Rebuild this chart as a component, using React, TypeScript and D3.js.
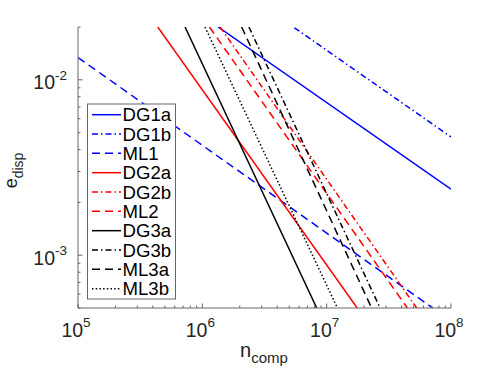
import React from "react";
import * as d3 from "d3";

// axis ticks
const xMajor = [1e5, 1e6, 1e7, 1e8];
const xMajorExp = ["5", "6", "7", "8"];
const yMajor = [1e-3, 1e-2];
const yMajorExp = ["-3", "-2"];

// legend order
const seriesNames = ["DG1a", "DG1b", "ML1", "DG2a", "DG2b", "ML2", "DG3a", "DG3b", "ML3a", "ML3b"];

// [n_comp, e_disp] (end points of each straight log-log line)
const dg1a: [number, number][] = [[1.34e6, 2.0e-2], [1e8, 2.38e-3]];
const dg1b: [number, number][] = [[5.5e6, 1.98e-2], [1e8, 4.72e-3]];
const ml1: [number, number][] = [[1e5, 1.34e-2], [7.13e7, 5.0e-4]];
const dg2a: [number, number][] = [[4.38e5, 2.0e-2], [1.76e7, 5.0e-4]];
const dg2b: [number, number][] = [[1.39e6, 2.0e-2], [5.3e7, 5.0e-4]];
const ml2: [number, number][] = [[1.14e6, 2.0e-2], [4.46e7, 5.0e-4]];
const dg3a: [number, number][] = [[7.26e5, 2.0e-2], [8.32e6, 5.0e-4]];
const dg3b: [number, number][] = [[2.37e6, 2.0e-2], [2.69e7, 5.0e-4]];
const ml3a: [number, number][] = [[2.07e6, 2.0e-2], [2.3e7, 5.0e-4]];
const ml3b: [number, number][] = [[1.05e6, 2.0e-2], [1.22e7, 5.0e-4]];

const seriesData: Record<string, [number, number][]> = {
  DG1a: dg1a, DG1b: dg1b, ML1: ml1,
  DG2a: dg2a, DG2b: dg2b, ML2: ml2,
  DG3a: dg3a, DG3b: dg3b, ML3a: ml3a, ML3b: ml3b,
};

const DASH = "8,5";
const DASHDOT = "6,3,1.5,3";
const DOT = "1.5,2.2";
const styles: Record<string, { color: string; dash: string | null }> = {
  DG1a: { color: "#0000ff", dash: null },
  DG1b: { color: "#0000ff", dash: DASHDOT },
  ML1: { color: "#0000ff", dash: DASH },
  DG2a: { color: "#ff0000", dash: null },
  DG2b: { color: "#ff0000", dash: DASHDOT },
  ML2: { color: "#ff0000", dash: DASH },
  DG3a: { color: "#000000", dash: null },
  DG3b: { color: "#000000", dash: DASHDOT },
  ML3a: { color: "#000000", dash: DASH },
  ML3b: { color: "#000000", dash: DOT },
};

const W = 498;
const H = 374;
const left = 78, right = 451, top = 27, bottom = 308;
const font = "Liberation Sans, Arial, Helvetica, sans-serif";
const axisColor = "#666666";
const textColor = "#262626";

export default function App() {
  const x = d3.scaleLog().domain([1e5, 1e8]).range([left, right]);
  const y = d3.scaleLog().domain([5e-4, 2e-2]).range([bottom, top]);
  const line = d3
    .line<[number, number]>()
    .x((d) => x(d[0]))
    .y((d) => y(d[1]));

  const isMajor = (v: number) => Math.abs(Math.log10(v) - Math.round(Math.log10(v))) < 1e-6;

  const legX = 87.5, legY = 104, legW = 88, legH = 195;
  const rowY0 = 114.7, rowStep = 19.33;

  return (
    <svg width={W} height={H} style={{ position: "absolute", left: 0, top: 0, background: "#fff" }}>
      <defs>
        <clipPath id="plot">
          <rect x={left} y={top} width={right - left} height={bottom - top} />
        </clipPath>
      </defs>

      {/* series */}
      <g clipPath="url(#plot)">
        {seriesNames.map((name) => (
          <path
            key={name}
            d={line(seriesData[name]) || ""}
            fill="none"
            stroke={styles[name].color}
            strokeWidth={1.5}
            strokeDasharray={styles[name].dash || undefined}
          />
        ))}
      </g>

      {/* axes */}
      <line x1={left} x2={left} y1={top} y2={bottom} stroke={axisColor} strokeWidth={1} />
      <line x1={left} x2={right} y1={bottom} y2={bottom} stroke={axisColor} strokeWidth={1} />
      {x.ticks().map((t, i) => (
        <line key={"xt" + i} x1={x(t)} x2={x(t)} y1={bottom} y2={bottom - (isMajor(t) ? 4.5 : 2.5)} stroke={axisColor} />
      ))}
      {y.ticks().map((t, i) => (
        <line key={"yt" + i} x1={left} x2={left + (isMajor(t) ? 4.5 : 2.5)} y1={y(t)} y2={y(t)} stroke={axisColor} />
      ))}

      {/* tick labels */}
      {xMajor.map((t, i) => (
        <text key={"xl" + i} x={x(t) - 2} y={337.3} textAnchor="middle" fontFamily={font} fontSize={19.5} fill={textColor}>
          10
          <tspan fontSize={13.5} dy={-10}>{xMajorExp[i]}</tspan>
        </text>
      ))}
      {yMajor.map((t, i) => (
        <text key={"yl" + i} x={67} y={y(t) + 9.5} textAnchor="end" fontFamily={font} fontSize={19.5} fill={textColor}>
          10
          <tspan fontSize={13.5} dy={-9.5}>{yMajorExp[i]}</tspan>
        </text>
      ))}

      {/* axis labels */}
      <text x={264} y={357.3} textAnchor="middle" fontFamily={font} fontSize={20} fill={textColor}>
        n<tspan fontSize={15} dy={6}>comp</tspan>
      </text>
      <text transform={`translate(17,${(top + bottom) / 2 + 3}) rotate(-90)`} textAnchor="middle" fontFamily={font} fontSize={18} fill={textColor}>
        e<tspan fontSize={14} dy={5.5}>disp</tspan>
      </text>

      {/* legend */}
      <rect x={legX} y={legY} width={legW} height={legH} fill="#fff" stroke={axisColor} strokeWidth={1} />
      {seriesNames.map((name, i) => {
        const cy = rowY0 + i * rowStep;
        return (
          <g key={"lg" + name}>
            <line
              x1={92}
              x2={121}
              y1={cy}
              y2={cy}
              stroke={styles[name].color}
              strokeWidth={1.5}
              strokeDasharray={styles[name].dash || undefined}
            />
            <text x={122.5} y={cy + 6.5} fontFamily={font} fontSize={18.6} fill="#000">
              {name}
            </text>
          </g>
        );
      })}
    </svg>
  );
}
